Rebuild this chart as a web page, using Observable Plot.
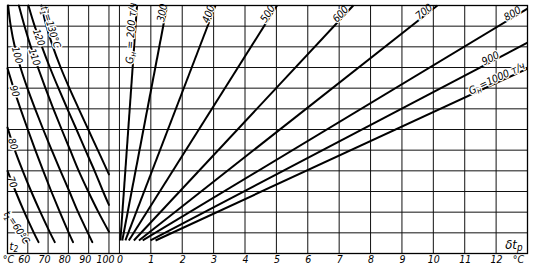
<!DOCTYPE html>
<html>
<head>
<meta charset="utf-8">
<script src="https://cdn.jsdelivr.net/npm/d3@7"></script>
<script src="https://cdn.jsdelivr.net/npm/@observablehq/plot@0.6"></script>
<style>
  html, body { margin: 0; padding: 0; background: #fff; }
  #chart svg { display: block; }
  #chart svg text { paint-order: stroke; font-style: italic !important; font-family: "DejaVu Sans Condensed", "Liberation Sans Narrow", sans-serif !important; }
</style>
</head>
<body>
<div id="chart"></div>
<script>
// ---------------- data ----------------
const yLevels = [0, 1, 2, 3, 4, 5, 6, 7, 8, 9, 10, 11, 12];
const t2Grid = [50, 60, 70, 80, 90, 100];
const t2TickLabels = [60, 70, 80, 90, 100];
const dtGrid = [0, 1, 2, 3, 4, 5, 6, 7, 8, 9, 10, 11, 12, 13];
const dtTickLabels = [0, 1, 2, 3, 4, 5, 6, 7, 8, 9, 10, 11, 12];

// left field: curves t1 = const, points [t2 (°C), ordinate]
const t1Values = [60, 70, 80, 90, 100, 110, 120, 130];
const t1Curves = [
  [[50, 1.9], [54.3, 1.25], [59.5, 0.55]],
  [[50, 4.0], [54.0, 3], [58.3, 2], [63.0, 1], [65.3, 0.55]],
  [[50, 6.1], [53.6, 5], [57.5, 4], [61.7, 3], [66.2, 2], [71.0, 1], [73.3, 0.55]],
  [[50, 8.96], [53.0, 8], [56.4, 7], [60.0, 6], [63.7, 5], [67.6, 4], [71.6, 3], [75.8, 2], [80.2, 1], [82.3, 0.55]],
  [[50.3, 12], [51.6, 11], [53.6, 10], [56.4, 9], [59.8, 8], [63.6, 7], [67.6, 6], [71.8, 5], [76.1, 4], [80.5, 3], [84.8, 2], [89.6, 1], [91.8, 0.55]],
  [[55.6, 12], [58.4, 11], [61.5, 10], [65.0, 9], [68.7, 8], [72.6, 7], [76.7, 6], [80.9, 5], [85.1, 4], [89.8, 3], [94.8, 2], [100, 1.05]],
  [[60.3, 12], [63.4, 11], [67.0, 10], [70.9, 9], [75.1, 8], [79.5, 7], [84.0, 6], [88.4, 5], [92.9, 4], [97.1, 3], [100, 2.35]],
  [[66.7, 12], [69.2, 11], [72.4, 10], [76.2, 9], [80.5, 8], [85.1, 7], [89.8, 6], [94.5, 5], [99.2, 4], [100, 3.83]]
];
const t1Labels = ["t_1=60°C", "70", "80", "90", "100", "110", "120", "t_1=130°C"];

// right field: rays G_н = const, [δt_р (°C), ordinate]
const gValues = [200, 300, 400, 500, 600, 700, 800, 900, 1000];
const rayStart = [[0.03, 0.63], [0.09, 0.63], [0.19, 0.63], [0.30, 0.63], [0.46, 0.63], [0.62, 0.63], [0.74, 0.63], [0.99, 0.63], [1.15, 0.63]];
const rayEnd = [[0.56, 12], [1.52, 12], [3.06, 12], [5.02, 12], [7.45, 12], [10.13, 12], [13, 11.85], [13, 10.2], [13, 8.95]];
const gLabels = ["G_н = 200 т/ч", "300", "400", "500", "600", "700", "800", "900", "G_н=1000 т/ч"];

// ---------------- layout ----------------
const W = 533, H = 267, ML = 7, MR = 6, MT = 5, MB = 14;
// the left field (t2, 50…100 °C) sits left of the δt_р field on one shared x scale
const LEFT_UNIT = 0.06465;   // x-units per °C of t2
const GAP = 0.334;           // x-units between t2 = 100 and δt_р = 0
const ux = t2 => -GAP + (t2 - 100) * LEFT_UNIT;
const X0 = ux(50), X1 = 13;
const kx = (W - ML - MR) / (X1 - X0);
const ky = (H - MT - MB) / 12;

// rows
const curveRows = t1Curves.flatMap((pts, i) => pts.map(([t2, y]) => ({t1: t1Values[i], x: ux(t2), y})));
const rays = gValues.map((g, i) => ({g, x1: rayStart[i][0], y1: rayStart[i][1], x2: rayEnd[i][0], y2: rayEnd[i][1]}));

// label anchors (annotation placement)
const t1LabelAt = {60: 1.25, 70: 3.45, 80: 5.3, 90: 7.85, 100: 9.6, 110: 9.5, 120: 10.45, 130: 10.9};
const curveLabelRows = t1Curves.map((pts, i) => {
  const yy = t1LabelAt[t1Values[i]];
  let k = 0;
  while (k < pts.length - 2 && pts[k + 1][1] > yy) k++;
  const [ta, ya] = pts[k], [tb, yb] = pts[k + 1];
  const f = (ya - yy) / (ya - yb);
  const t = ta + (tb - ta) * f;
  const sx = (ux(tb) - ux(ta)) * kx, sy = (ya - yb) * ky;
  return {t1: t1Values[i], x: ux(t), y: yy, text: t1Labels[i], angle: Math.atan2(sy, sx) * 180 / Math.PI};
});
const gLabelDist = {200: 28, 300: 8, 400: 10.5, 500: 12, 600: 15, 700: 14.5, 800: 15.5, 900: 40, 1000: 32};
const rayLabelRows = rays.map((r, i) => {
  const sx = (r.x2 - r.x1) * kx, sy = (r.y2 - r.y1) * ky;
  const len = Math.hypot(sx, sy);
  const f = 1 - gLabelDist[r.g] / len;
  return {x: r.x1 + (r.x2 - r.x1) * f, y: r.y1 + (r.y2 - r.y1) * f, text: gLabels[i], angle: -Math.atan2(sy, sx) * 180 / Math.PI};
});

const leftTickMap = new Map(t2TickLabels.map(t => [ux(t), String(t)]));
const FONT = '"DejaVu Sans Condensed", "Liberation Sans Narrow", sans-serif';

const chart = Plot.plot({
  width: W, height: H,
  marginLeft: ML, marginRight: MR, marginTop: MT, marginBottom: MB,
  style: {fontFamily: FONT, fontStyle: "italic", fontSize: "11px", background: "#fff", color: "#000"},
  x: {type: "linear", domain: [X0, X1]},
  y: {type: "linear", domain: [0, 12], axis: null},
  marks: [
    Plot.ruleY(yLevels, {y: d => d, stroke: "#111", strokeWidth: 1}),
    Plot.ruleX(t2Grid, {x: d => ux(d), stroke: "#111", strokeWidth: 1}),
    Plot.ruleX(dtGrid, {x: d => d, stroke: "#111", strokeWidth: 1}),
    Plot.line(curveRows, {x: "x", y: "y", z: "t1", stroke: "#000", strokeWidth: 2, curve: "catmull-rom"}),
    Plot.link(rays, {x1: "x1", y1: "y1", x2: "x2", y2: "y2", stroke: "#000", strokeWidth: 2}),
    Plot.text(curveLabelRows.filter(d => d.t1 !== 130), {x: "x", y: "y", text: "text", rotate: "angle", textAnchor: "middle", lineAnchor: "middle",
      fontSize: 10, fill: "#000", stroke: "#fff", strokeWidth: 3}),
    Plot.text(curveLabelRows.filter(d => d.t1 === 130), {x: "x", y: "y", text: "text", rotate: "angle", textAnchor: "middle", lineAnchor: "bottom",
      fontSize: 10, fill: "#000", stroke: "#fff", strokeWidth: 2.5}),
    Plot.text(rayLabelRows, {x: "x", y: "y", text: "text", rotate: "angle", textAnchor: "middle", lineAnchor: "bottom",
      fontSize: 10.5, fill: "#000", stroke: "#fff", strokeWidth: 2.5}),
    Plot.frame({stroke: "#000", strokeWidth: 1.3}),
    Plot.axisX(t2TickLabels.map(ux), {anchor: "bottom", tickSize: 0, tickPadding: 2, dx: -3.5,
      tickFormat: d => leftTickMap.get(d), label: null, fontSize: 10.5}),
    Plot.axisX(dtTickLabels, {anchor: "bottom", tickSize: 0, tickPadding: 2, dx: 0.5,
      tickFormat: d => String(d), label: null, fontSize: 10.5}),
    Plot.text(["°C"], {frameAnchor: "bottom-left", dx: 1, dy: 2, lineAnchor: "top", textAnchor: "middle", fontSize: 10.5}),
    Plot.text(["°C"], {frameAnchor: "bottom-right", dx: -9, dy: 2, lineAnchor: "top", textAnchor: "middle", fontSize: 10.5}),
    Plot.text(["δt_р"], {frameAnchor: "bottom-right", dx: -5, dy: -5, lineAnchor: "bottom", textAnchor: "end", fontSize: 13}),
    Plot.text(["t_2"], {frameAnchor: "bottom-left", dx: 2, dy: -4, lineAnchor: "bottom", textAnchor: "start", fontSize: 11})
  ]
});

// subscripts written as "_x"
d3.select(chart).selectAll("text").each(function () {
  const holders = this.querySelectorAll("tspan").length ? [...this.querySelectorAll("tspan")] : [this];
  for (const h of holders) {
    const s = h.textContent;
    if (!s.includes("_")) continue;
    h.textContent = "";
    const parts = s.split(/_(.)/);
    parts.forEach((p, i) => {
      if (!p) return;
      const ts = document.createElementNS("http://www.w3.org/2000/svg", "tspan");
      ts.textContent = p;
      if (i % 2 === 1) { ts.setAttribute("dy", "0.3em"); ts.setAttribute("font-size", "75%"); }
      else if (i > 0) { ts.setAttribute("dy", "-0.3em"); }
      h.appendChild(ts);
    });
  }
});

document.getElementById("chart").appendChild(chart);
</script>
</body>
</html>
